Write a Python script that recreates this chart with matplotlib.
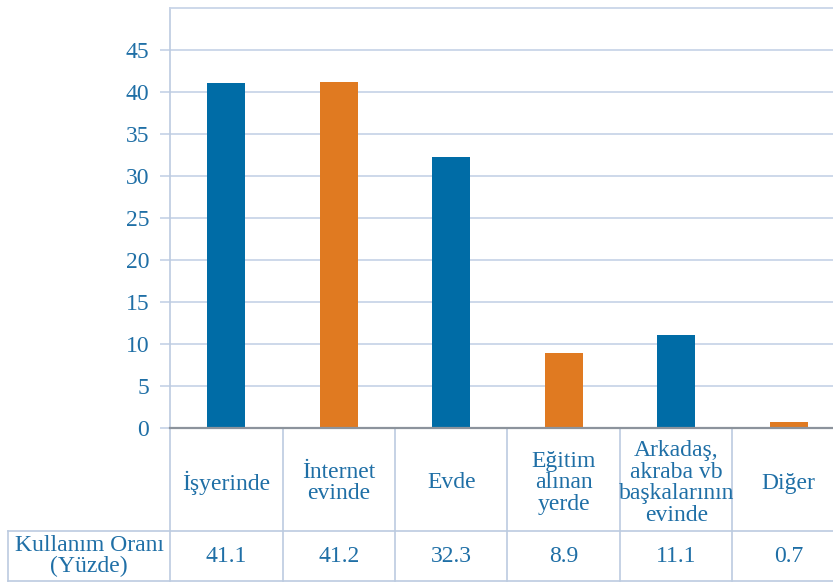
import matplotlib
matplotlib.use("Agg")
import matplotlib.pyplot as plt
import matplotlib.transforms as mtransforms

categories = ["İşyerinde", "İnternet\nevinde", "Evde", "Eğitim\nalınan\nyerde",
              "Arkadaş,\nakraba vb\nbaşkalarının\nevinde", "Diğer"]
values = [41.1, 41.2, 32.3, 8.9, 11.1, 0.7]
value_labels = ["41.1", "41.2", "32.3", "8.9", "11.1", "0.7"]
row_label = "Kullanım Oranı\n(Yüzde)"
yticks = [0, 5, 10, 15, 20, 25, 30, 35, 40, 45]

BLUE = "#006ca6"
ORANGE = "#e07a21"
TEXT = "#1f6fa6"
GRID = "#c9d5e8"
TABLE = "#bccbe0"
AXIS = "#8c939c"

plt.rcParams['font.family'] = ['Liberation Serif', 'DejaVu Serif']

fig = plt.figure(figsize=(8.33, 5.83), dpi=100)
ax = fig.add_axes([170/833, 1-428/583, 675/833, 420/583])

colors = [BLUE if i % 2 == 0 else ORANGE for i in range(len(values))]
x = list(range(len(values)))
ax.bar(x, values, width=0.34, color=colors, zorder=3)

ax.set_xlim(-0.5, len(values) - 0.5)
ax.set_ylim(0, 50)
ax.set_yticks(yticks)
ax.set_yticklabels([str(t) for t in yticks])
ax.set_xticks([])
ax.grid(axis='y', color=GRID, linewidth=1.3, zorder=0)
ax.tick_params(axis='y', length=7, width=1.3, color=GRID, direction='out',
               labelsize=17, labelcolor=TEXT, pad=8)

for s in ['right']:
    ax.spines[s].set_visible(False)
ax.spines['top'].set_color(GRID)
ax.spines['top'].set_linewidth(1.3)
ax.spines['left'].set_color(TABLE)
ax.spines['left'].set_linewidth(1.2)
ax.spines['bottom'].set_color(AXIS)
ax.spines['bottom'].set_linewidth(1.6)
ax.spines['bottom'].set_zorder(4)

trans = mtransforms.blended_transform_factory(ax.transData, ax.transAxes)

y_row = -(531-428)/420
y_bot = -(581-428)/420
x_left = (8-170)/675

# vertical separators in table
for i in range(len(values) + 1):
    xe = i - 0.5
    ax.plot([xe, xe], [0, y_bot], transform=trans, color=TABLE, lw=1.2,
            clip_on=False, zorder=2)
# horizontal lines
for yy in (y_row, y_bot):
    ax.plot([x_left, 1.05], [yy, yy], transform=ax.transAxes, color=TABLE,
            lw=1.2, clip_on=False)
ax.plot([x_left, x_left], [y_row, y_bot], transform=ax.transAxes, color=TABLE,
        lw=1.2, clip_on=False)

# category labels
for i, c in enumerate(categories):
    ax.text(i, -(483-428)/420, c, transform=trans, ha='center', va='center',
            fontsize=17, color=TEXT, linespacing=1.05, clip_on=False)
# values
for i, v in enumerate(value_labels):
    ax.text(i, -(556-428)/420, v, transform=trans, ha='center', va='center',
            fontsize=17, color=TEXT, clip_on=False)
ax.text((x_left + 0) / 2, -(556-428)/420, row_label, transform=ax.transAxes,
        ha='center', va='center', fontsize=17, color=TEXT, linespacing=1.0,
        clip_on=False)

fig.savefig("out.png", dpi=100)
